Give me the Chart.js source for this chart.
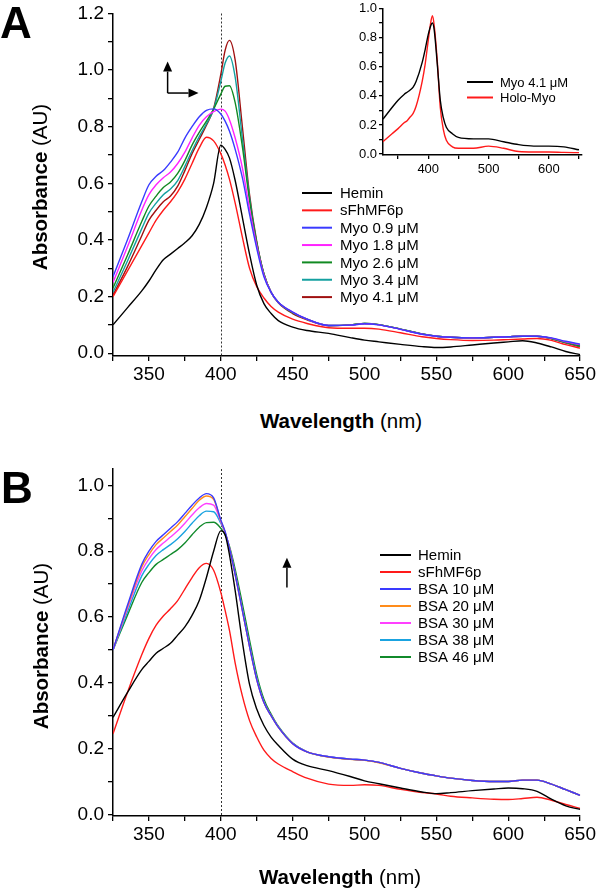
<!DOCTYPE html>
<html>
<head>
<meta charset="utf-8">
<script src="https://cdn.jsdelivr.net/npm/chart.js@4.4.0/dist/chart.umd.min.js"></script>
<style>
body { margin: 0; background: #fff; width: 600px; height: 889px; position: relative; overflow: hidden; font-family: "Liberation Sans", Arial, sans-serif; }
canvas { position: absolute; }
.lbl { position: absolute; white-space: nowrap; color: #000; line-height: 1; }
.panel { font-weight: bold; font-size: 44px; line-height: 44px; }
.ttl { font-size: 20.5px; transform: translate(-50%, -50%); }
.ttl.rot { transform: translate(-50%, -50%) rotate(-90deg); }
.ttl b { font-weight: bold; }
</style>
</head>
<body>
<canvas id="chartA" width="600" height="406" style="left:0;top:0"></canvas>
<canvas id="chartB" width="600" height="426" style="left:0;top:440px"></canvas>
<canvas id="chartIn" width="260" height="185" style="left:340px;top:0"></canvas>

<div class="lbl panel" style="left:0;top:1px">A</div>
<div class="lbl panel" style="left:1px;top:466px">B</div>
<div class="lbl ttl rot" style="left:40px;top:187px"><b>Absorbance</b> (AU)</div>
<div class="lbl ttl rot" style="left:41px;top:646px"><b>Absorbance</b> (AU)</div>
<div class="lbl ttl" style="left:341px;top:421px"><b>Wavelength</b> (nm)</div>
<div class="lbl ttl" style="left:340px;top:877px"><b>Wavelength</b> (nm)</div>

<script>
// wavelengths (nm) for the two main panels
var wl = [325, 335, 345, 350, 355, 360, 365, 370, 375, 380, 385, 390, 395, 400, 403, 406, 410, 415, 420, 425,
          430, 435, 440, 450, 460, 475, 490, 500, 510, 525, 540, 550, 560, 575, 590, 600, 610, 620, 630, 640, 650];

// panel A
var heminA = [0.10, 0.16, 0.22, 0.255, 0.295, 0.33, 0.35, 0.37, 0.39, 0.415, 0.455, 0.515, 0.60, 0.735, 0.72, 0.69, 0.61, 0.48, 0.35, 0.24,
              0.175, 0.14, 0.115, 0.092, 0.08, 0.07, 0.055, 0.046, 0.04, 0.031, 0.023, 0.02, 0.022, 0.029, 0.036, 0.04, 0.044, 0.036, 0.022, 0.006, -0.005];
var sfhA = [0.20, 0.29, 0.38, 0.425, 0.47, 0.505, 0.535, 0.57, 0.615, 0.67, 0.725, 0.763, 0.75, 0.705, 0.665, 0.615, 0.53, 0.41, 0.30, 0.235,
            0.195, 0.165, 0.145, 0.12, 0.105, 0.09, 0.088, 0.088, 0.085, 0.072, 0.058, 0.052, 0.048, 0.045, 0.046, 0.048, 0.05, 0.052, 0.045, 0.03, 0.018];
var myo09 = [0.27, 0.40, 0.535, 0.595, 0.625, 0.645, 0.675, 0.71, 0.76, 0.80, 0.835, 0.858, 0.863, 0.845, 0.82, 0.785, 0.72, 0.62, 0.49, 0.37,
             0.27, 0.215, 0.18, 0.145, 0.12, 0.098, 0.099, 0.104, 0.10, 0.084, 0.067, 0.06, 0.056, 0.054, 0.056, 0.058, 0.06, 0.06, 0.054, 0.042, 0.032];
var myo18 = [0.25, 0.375, 0.505, 0.56, 0.595, 0.62, 0.64, 0.67, 0.71, 0.76, 0.805, 0.835, 0.853, 0.862, 0.855, 0.825, 0.76, 0.655, 0.51, 0.38,
             0.275, 0.215, 0.18, 0.145, 0.12, 0.098, 0.099, 0.104, 0.10, 0.084, 0.067, 0.06, 0.056, 0.054, 0.056, 0.058, 0.06, 0.06, 0.053, 0.04, 0.03];
var myo26 = [0.23, 0.345, 0.465, 0.52, 0.555, 0.585, 0.605, 0.635, 0.68, 0.735, 0.78, 0.82, 0.862, 0.915, 0.943, 0.945, 0.885, 0.73, 0.54, 0.39,
             0.28, 0.215, 0.18, 0.143, 0.12, 0.098, 0.10, 0.105, 0.101, 0.085, 0.068, 0.06, 0.056, 0.054, 0.056, 0.058, 0.06, 0.06, 0.052, 0.038, 0.026];
var myo34 = [0.215, 0.325, 0.44, 0.495, 0.53, 0.56, 0.58, 0.61, 0.66, 0.715, 0.765, 0.81, 0.862, 0.96, 1.025, 1.05, 0.975, 0.76, 0.55, 0.39,
             0.28, 0.215, 0.18, 0.143, 0.12, 0.098, 0.10, 0.105, 0.101, 0.085, 0.068, 0.06, 0.056, 0.054, 0.056, 0.058, 0.06, 0.06, 0.052, 0.037, 0.025];
var myo41 = [0.205, 0.305, 0.415, 0.47, 0.505, 0.535, 0.555, 0.59, 0.645, 0.705, 0.755, 0.805, 0.865, 0.985, 1.07, 1.105, 1.035, 0.80, 0.56, 0.395,
             0.28, 0.215, 0.178, 0.14, 0.118, 0.097, 0.10, 0.105, 0.101, 0.085, 0.068, 0.06, 0.056, 0.054, 0.056, 0.058, 0.06, 0.06, 0.051, 0.036, 0.023];
var namesA = ['Hemin', 'sFhMF6p', 'Myo 0.9 μM', 'Myo 1.8 μM', 'Myo 2.6 μM', 'Myo 3.4 μM', 'Myo 4.1 μM'];
var colorsA = ['#000000', '#ff1a1a', '#3a3aff', '#ff22ff', '#118a22', '#14a0a0', '#a01010'];

// panel B
var heminB = [0.295, 0.37, 0.44, 0.465, 0.49, 0.505, 0.52, 0.545, 0.57, 0.605, 0.65, 0.72, 0.80, 0.862, 0.85, 0.79, 0.68, 0.525, 0.395, 0.32,
              0.27, 0.235, 0.21, 0.168, 0.148, 0.133, 0.115, 0.102, 0.093, 0.08, 0.068, 0.063, 0.066, 0.072, 0.077, 0.08, 0.078, 0.07, 0.046, 0.026, 0.015];
var sfhB = [0.245, 0.37, 0.485, 0.535, 0.575, 0.603, 0.625, 0.65, 0.685, 0.72, 0.75, 0.763, 0.742, 0.675, 0.62, 0.56, 0.46, 0.36, 0.285, 0.235,
            0.195, 0.17, 0.153, 0.13, 0.11, 0.092, 0.088, 0.09, 0.088, 0.076, 0.066, 0.062, 0.055, 0.05, 0.046, 0.045, 0.048, 0.052, 0.043, 0.03, 0.018];
var bsa10 = [0.50, 0.635, 0.76, 0.80, 0.83, 0.85, 0.87, 0.89, 0.915, 0.94, 0.962, 0.975, 0.962, 0.895, 0.86, 0.81, 0.73, 0.62, 0.51, 0.41,
             0.34, 0.30, 0.265, 0.215, 0.19, 0.175, 0.168, 0.165, 0.158, 0.14, 0.125, 0.117, 0.11, 0.103, 0.10, 0.10, 0.104, 0.104, 0.092, 0.075, 0.058];
var bsa20 = [0.50, 0.63, 0.752, 0.79, 0.82, 0.84, 0.86, 0.88, 0.905, 0.93, 0.955, 0.968, 0.958, 0.893, 0.858, 0.81, 0.73, 0.62, 0.51, 0.41,
             0.34, 0.30, 0.265, 0.215, 0.19, 0.174, 0.167, 0.164, 0.157, 0.14, 0.125, 0.117, 0.11, 0.103, 0.10, 0.10, 0.104, 0.104, 0.092, 0.075, 0.058];
var bsa30 = [0.50, 0.625, 0.74, 0.777, 0.805, 0.825, 0.843, 0.862, 0.885, 0.91, 0.932, 0.945, 0.94, 0.89, 0.856, 0.81, 0.73, 0.62, 0.51, 0.41,
             0.34, 0.30, 0.265, 0.215, 0.19, 0.175, 0.168, 0.165, 0.158, 0.14, 0.125, 0.117, 0.11, 0.103, 0.10, 0.10, 0.104, 0.104, 0.092, 0.075, 0.058];
var bsa38 = [0.50, 0.615, 0.725, 0.76, 0.787, 0.805, 0.82, 0.838, 0.86, 0.885, 0.908, 0.922, 0.92, 0.885, 0.855, 0.81, 0.732, 0.625, 0.515, 0.415,
             0.342, 0.30, 0.266, 0.216, 0.19, 0.175, 0.168, 0.165, 0.158, 0.14, 0.125, 0.117, 0.11, 0.103, 0.10, 0.10, 0.104, 0.104, 0.092, 0.075, 0.058];
var bsa46 = [0.50, 0.605, 0.705, 0.735, 0.76, 0.775, 0.79, 0.805, 0.825, 0.85, 0.873, 0.887, 0.888, 0.87, 0.85, 0.815, 0.745, 0.64, 0.53, 0.425,
             0.35, 0.305, 0.268, 0.217, 0.19, 0.175, 0.168, 0.165, 0.158, 0.14, 0.125, 0.117, 0.11, 0.103, 0.10, 0.10, 0.104, 0.104, 0.092, 0.075, 0.058];
var namesB = ['Hemin', 'sFhMF6p', 'BSA 10 μM', 'BSA 20 μM', 'BSA 30 μM', 'BSA 38 μM', 'BSA 46 μM'];
var colorsB = ['#000000', '#ff1a1a', '#3a3aff', '#ff8c1a', '#ff40ff', '#1aa3e0', '#118a2b'];

// inset of panel A
var wlIn = [325, 340, 350, 360, 365, 370, 375, 380, 390, 395, 400, 404, 407, 410, 415, 420, 425, 430, 440, 450, 475, 500, 525, 550, 575, 600, 625, 650];
var myoIn = [0.24, 0.32, 0.37, 0.41, 0.425, 0.44, 0.46, 0.50, 0.63, 0.72, 0.82, 0.88, 0.90, 0.85, 0.62, 0.37, 0.25, 0.185, 0.14, 0.115, 0.105, 0.105, 0.085, 0.065, 0.055, 0.055, 0.05, 0.03];
var holoIn = [0.085, 0.14, 0.175, 0.215, 0.23, 0.255, 0.28, 0.33, 0.50, 0.62, 0.78, 0.90, 0.95, 0.88, 0.64, 0.32, 0.17, 0.095, 0.05, 0.04, 0.04, 0.055, 0.04, 0.018, 0.015, 0.015, 0.012, 0.01];
var namesIn = ['Myo 4.1 μM', 'Holo-Myo'];
var colorsIn = ['#000000', '#ff1a1a'];

// ticks
var xTicks = [325, 350, 375, 400, 425, 450, 475, 500, 525, 550, 575, 600, 625, 650];
var yTicksA = [0, 0.1, 0.2, 0.3, 0.4, 0.5, 0.6, 0.7, 0.8, 0.9, 1.0, 1.1, 1.2];
var yTicksB = [0, 0.1, 0.2, 0.3, 0.4, 0.5, 0.6, 0.7, 0.8, 0.9, 1.0];
var xTicksIn = [350, 400, 450, 500, 550, 600, 650];
var yTicksIn = [0, 0.1, 0.2, 0.3, 0.4, 0.5, 0.6, 0.7, 0.8, 0.9, 1.0];

Chart.defaults.font.family = '"Liberation Sans", Arial, sans-serif';
Chart.defaults.color = '#000';

function series(xs, ys, name, color) {
    return {
        label: name,
        data: xs.map(function (x, i) { return { x: x, y: ys[i] }; }),
        borderColor: color,
        borderWidth: 1.4,
        pointRadius: 0,
        fill: false,
        cubicInterpolationMode: 'monotone'
    };
}

// legend drawn inside the plot, line + label
var lineLegend = {
    id: 'lineLegend',
    afterDraw: function (chart, args, o) {
        var ctx = chart.ctx;
        ctx.save();
        ctx.font = o.size + 'px "Liberation Sans", Arial, sans-serif';
        ctx.textBaseline = 'middle';
        chart.data.datasets.forEach(function (ds, i) {
            var y = o.y + i * o.gap;
            ctx.strokeStyle = ds.borderColor;
            ctx.lineWidth = 2;
            ctx.beginPath();
            ctx.moveTo(o.x, y);
            ctx.lineTo(o.x + o.len, y);
            ctx.stroke();
            ctx.fillStyle = '#000';
            ctx.fillText(ds.label, o.x + o.len + o.pad, y + 1);
        });
        ctx.restore();
    }
};

// dotted marker at 400 nm
var marker = {
    id: 'marker',
    beforeDatasetsDraw: function (chart, args, o) {
        if (!o.at) return;
        var x = Math.round(chart.scales.x.getPixelForValue(o.at)) + 0.5;
        var a = chart.chartArea;
        var ctx = chart.ctx;
        ctx.save();
        ctx.strokeStyle = '#333';
        ctx.lineWidth = 1;
        ctx.setLineDash([2, 2]);
        ctx.beginPath();
        ctx.moveTo(x, a.top);
        ctx.lineTo(x, a.bottom);
        ctx.stroke();
        ctx.restore();
    }
};

function arrowPlugin(list) {
    return {
        id: 'arrows',
        afterDatasetsDraw: function (chart) {
            var ctx = chart.ctx, sx = chart.scales.x, sy = chart.scales.y;
            ctx.save();
            ctx.strokeStyle = '#000';
            ctx.fillStyle = '#000';
            ctx.lineWidth = 1.5;
            list.forEach(function (a) {
                var x0 = sx.getPixelForValue(a[0]), y0 = sy.getPixelForValue(a[1]);
                var x1 = sx.getPixelForValue(a[2]), y1 = sy.getPixelForValue(a[3]);
                var ang = Math.atan2(y1 - y0, x1 - x0);
                var hl = 10, hw = 4.5;
                var bx = x1 - hl * Math.cos(ang), by = y1 - hl * Math.sin(ang);
                ctx.beginPath();
                ctx.moveTo(x0, y0);
                ctx.lineTo(bx, by);
                ctx.stroke();
                ctx.beginPath();
                ctx.moveTo(x1, y1);
                ctx.lineTo(bx + hw * Math.sin(ang), by - hw * Math.cos(ang));
                ctx.lineTo(bx - hw * Math.sin(ang), by + hw * Math.cos(ang));
                ctx.closePath();
                ctx.fill();
            });
            ctx.restore();
        }
    };
}

function axes(o) {
    return {
        x: {
            type: 'linear', min: o.xmin, max: o.xmax,
            afterBuildTicks: function (s) { s.ticks = o.xt.map(function (v) { return { value: v }; }); },
            afterFit: function (s) { s.height = o.xh; },
            grid: { drawOnChartArea: false, drawTicks: true, tickLength: o.tl, color: '#000', lineWidth: 1.3 },
            border: { display: true, color: '#000', width: 1.5 },
            ticks: {
                autoSkip: false, maxRotation: 0, padding: o.xpad,
                font: { size: o.fs, lineHeight: 1 },
                callback: function (v) { return Math.round(v) % o.xlab === 0 ? String(Math.round(v)) : ''; }
            }
        },
        y: {
            type: 'linear', min: o.ymin, max: o.ymax,
            afterBuildTicks: function (s) { s.ticks = o.yt.map(function (v) { return { value: v }; }); },
            afterFit: function (s) { s.width = o.yw; },
            grid: { drawOnChartArea: false, drawTicks: true, tickLength: o.tl, color: '#000', lineWidth: 1.3 },
            border: { display: true, color: '#000', width: 1.5 },
            ticks: {
                autoSkip: false, padding: o.ypad,
                font: { size: o.fs, lineHeight: 1 },
                callback: function (v) { return Math.round(v * 10) % 2 === 0 ? v.toFixed(1) : ''; }
            }
        }
    };
}

new Chart(document.getElementById('chartA'), {
    type: 'line',
    data: {
        datasets: [heminA, sfhA, myo09, myo18, myo26, myo34, myo41].map(function (d, i) {
            return series(wl, d, namesA[i], colorsA[i]);
        })
    },
    options: {
        responsive: false, animation: false, events: [],
        layout: { padding: { left: 0, right: 19, top: 11, bottom: 0 } },
        scales: axes({ xmin: 325, xmax: 650, ymin: -0.01, ymax: 1.2, xt: xTicks, yt: yTicksA, xlab: 50,
                       xh: 50, yw: 113, tl: 5, fs: 19, xpad: 4, ypad: 4 }),
        plugins: {
            legend: { display: false }, tooltip: { enabled: false },
            lineLegend: { x: 302, y: 193, gap: 17.35, len: 30, pad: 8, size: 15 },
            marker: { at: 400 }
        }
    },
    plugins: [lineLegend, marker, arrowPlugin([[363, 0.919, 363, 1.03], [363, 0.919, 384.5, 0.919]])]
});

new Chart(document.getElementById('chartB'), {
    type: 'line',
    data: {
        datasets: [heminB, sfhB, bsa10, bsa20, bsa30, bsa38, bsa46].map(function (d, i) {
            return series(wl, d, namesB[i], colorsB[i]);
        })
    },
    options: {
        responsive: false, animation: false, events: [],
        layout: { padding: { left: 0, right: 19, top: 29, bottom: 0 } },
        scales: axes({ xmin: 325, xmax: 650, ymin: -0.005, ymax: 1.05, xt: xTicks, yt: yTicksB, xlab: 50,
                       xh: 50, yw: 113, tl: 5, fs: 19, xpad: 4, ypad: 4 }),
        plugins: {
            legend: { display: false }, tooltip: { enabled: false },
            lineLegend: { x: 380, y: 115, gap: 17, len: 31, pad: 7, size: 15 },
            marker: { at: 400 }
        }
    },
    plugins: [lineLegend, marker, arrowPlugin([[446, 0.69, 446, 0.78]])]
});

new Chart(document.getElementById('chartIn'), {
    type: 'line',
    data: {
        datasets: [myoIn, holoIn].map(function (d, i) {
            return series(wlIn, d, namesIn[i], colorsIn[i]);
        })
    },
    options: {
        responsive: false, animation: false, events: [],
        layout: { padding: { left: 0, right: 18, top: 7, bottom: 0 } },
        scales: axes({ xmin: 325, xmax: 655, ymin: -0.006, ymax: 1.0, xt: xTicksIn, yt: yTicksIn, xlab: 100,
                       xh: 30, yw: 43, tl: 4, fs: 13, xpad: 4, ypad: 2 }),
        plugins: {
            legend: { display: false }, tooltip: { enabled: false },
            lineLegend: { x: 127, y: 82, gap: 15.5, len: 26, pad: 7, size: 13 },
            marker: { at: 0 }
        }
    },
    plugins: [lineLegend, marker]
});
</script>
</body>
</html>
